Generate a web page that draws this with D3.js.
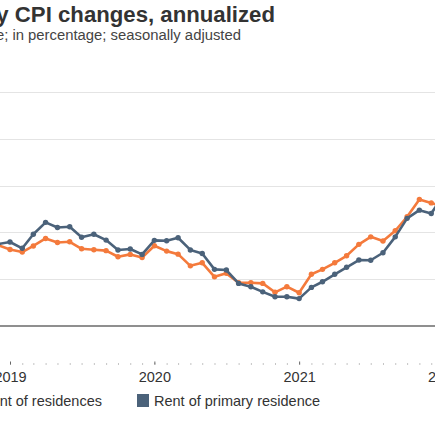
<!DOCTYPE html>
<html>
<head>
<meta charset="utf-8">
<script src="https://cdn.jsdelivr.net/npm/d3@7"></script>
<style>
  html, body { margin: 0; padding: 0; background: #fff; }
  svg { display: block; font-family: "Liberation Sans", Arial, sans-serif; }
</style>
</head>
<body>
<svg id="chart" width="435" height="435"></svg>
<script>
// ---- data ----
const titleText = "Monthly CPI changes, annualized";
const subtitleText = "Monthly change; in percentage; seasonally adjusted";
const months = ["2018-12","2019-01","2019-02","2019-03","2019-04","2019-05","2019-06","2019-07","2019-08","2019-09","2019-10","2019-11","2019-12",
  "2020-01","2020-02","2020-03","2020-04","2020-05","2020-06","2020-07","2020-08","2020-09","2020-10","2020-11","2020-12",
  "2021-01","2021-02","2021-03","2021-04","2021-05","2021-06","2021-07","2021-08","2021-09","2021-10","2021-11","2021-12","2022-01"];
const ownersEquivRent = [3.46,3.27,3.16,3.42,3.74,3.57,3.60,3.30,3.26,3.22,2.96,3.06,2.93,
  3.43,3.20,3.07,2.57,2.70,2.10,2.25,1.85,1.85,1.82,1.44,1.68,
  1.42,2.21,2.42,2.70,3.00,3.49,3.81,3.63,4.07,4.67,5.41,5.26,5.10];
const rentPrimary = [3.50,3.59,3.32,3.92,4.43,4.21,4.24,3.79,3.92,3.67,3.25,3.29,3.06,
  3.66,3.64,3.77,3.25,3.10,2.42,2.39,1.82,1.68,1.46,1.25,1.25,
  1.17,1.65,1.89,2.21,2.51,2.82,2.81,3.13,3.81,4.60,4.95,4.81,5.60];
const yTicks = [0, 2, 4, 6, 8, 10];
const yearLabels = ["2019", "2020", "2021", "2022"];
const seriesNames = ["Owners' equivalent rent of residences", "Rent of primary residence"];
const seriesColors = ["#f47a3c", "#4b627a"];

// ---- setup ----
const svg = d3.select("#chart");
const parse = d3.timeParse("%Y-%m");
const dates = months.map(parse);
const yearDates = yearLabels.map(y => d3.timeParse("%Y")(y));

const x = d3.scaleTime()
  .domain([yearDates[0], yearDates[3]])
  .range([10, 443.5]);
const y = d3.scaleLinear().domain([0, 10]).range([326, 92]);

svg.append("rect").attr("width", 435).attr("height", 435).attr("fill", "#fff");

// title
svg.append("text")
  .attr("x", 275).attr("y", 22)
  .attr("text-anchor", "end")
  .attr("font-size", 22.2).attr("font-weight", "bold")
  .attr("fill", "#333")
  .text(titleText);
svg.append("text")
  .attr("x", 241).attr("y", 39.5)
  .attr("text-anchor", "end")
  .attr("font-size", 14.85)
  .attr("fill", "#444")
  .text(subtitleText);

// gridlines
const grid = svg.append("g").attr("class", "grid");
grid.selectAll("line")
  .data(yTicks.filter(d => d !== 0))
  .join("line")
  .attr("x1", 0).attr("x2", 435)
  .attr("y1", d => Math.round(y(d)) + 0.5).attr("y2", d => Math.round(y(d)) + 0.5)
  .attr("stroke", "#e4e4e4").attr("stroke-width", 1);

// baseline
svg.append("line")
  .attr("x1", 0).attr("x2", 435)
  .attr("y1", y(0)).attr("y2", y(0))
  .attr("stroke", "#8f8f8f").attr("stroke-width", 2);

// x axis: monthly dots
const monthTicks = d3.timeMonth.range(d3.timeMonth.offset(yearDates[0], -2), d3.timeMonth.offset(yearDates[3], 2));
const monthAxis = d3.axisBottom(x).tickValues(monthTicks).tickSize(1).tickFormat("");
const gm = svg.append("g").attr("transform", "translate(0,363.5)").call(monthAxis);
gm.select(".domain").remove();
gm.selectAll(".tick line").attr("stroke", "#888");

// x axis: years
const yearAxis = d3.axisBottom(x).tickValues(yearDates).tickSize(3).tickPadding(7)
  .tickFormat((d, i) => yearLabels[i]);
const gy = svg.append("g").attr("transform", "translate(0,361.5)").call(yearAxis);
gy.select(".domain").remove();
gy.selectAll(".tick line").attr("stroke", "#666");
gy.selectAll(".tick text")
  .attr("font-size", 14.5)
  .attr("font-family", "'Liberation Sans', Arial, sans-serif")
  .attr("fill", "#333");

// lines
const seriesData = [ownersEquivRent, rentPrimary];
const line = d3.line()
  .x((d, i) => x(dates[i]))
  .y(d => y(d));

seriesData.forEach((vals, si) => {
  const g = svg.append("g");
  g.append("path")
    .datum(vals)
    .attr("fill", "none")
    .attr("stroke", seriesColors[si])
    .attr("stroke-width", 2.6)
    .attr("stroke-linejoin", "round")
    .attr("d", line);
  g.selectAll("circle")
    .data(vals)
    .join("circle")
    .attr("cx", (d, i) => x(dates[i]))
    .attr("cy", d => y(d))
    .attr("r", 2.7)
    .attr("fill", seriesColors[si]);
});

// legend
const legend = svg.append("g");
const t1 = legend.append("text")
  .attr("x", 102).attr("y", 405.5)
  .attr("text-anchor", "end")
  .attr("font-size", 14.5)
  .attr("fill", "#333")
  .text(seriesNames[0]);
const w1 = t1.node().getComputedTextLength();
legend.append("rect")
  .attr("x", 102 - w1 - 17).attr("y", 394)
  .attr("width", 12).attr("height", 13)
  .attr("fill", seriesColors[0]);
legend.append("rect")
  .attr("x", 137).attr("y", 394)
  .attr("width", 12).attr("height", 13)
  .attr("fill", seriesColors[1]);
legend.append("text")
  .attr("x", 154).attr("y", 405.5)
  .attr("font-size", 14.5)
  .attr("fill", "#333")
  .text(seriesNames[1]);
</script>
</body>
</html>
